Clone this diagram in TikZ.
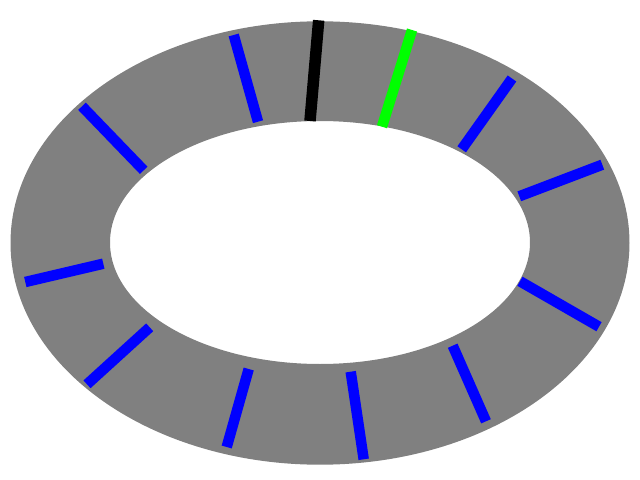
\documentclass[tikz,border=0pt]{standalone}
\usepackage{xcolor}
\usepackage{tikz}

\tikzset{spoke/.style={line width=10.5*0.025cm}}

\begin{document}
\begin{tikzpicture}[x=0.025cm,y=-0.025cm]
 \useasboundingbox (0,0) rectangle (640,480);
 % ring
 \fill[gray,even odd rule] (320,243) ellipse [x radius=309.5, y radius=221.7]
   (320,242.5) ellipse [x radius=210, y radius=121.5];
 % marks
 \draw[spoke,line width=11.5*0.025cm,black] (318.7,20.3) -- (310,121);
 \draw[spoke,green] (412,30) -- (382,126.7);
 \foreach \xa/\ya/\xb/\yb in {512/78.5/461.7/149.3, 602.3/164.7/519.3/196.3,
   599/326.7/520/281.3, 486/421.3/452.7/345.7, 363.7/459.3/350.7/371.7,
   226.7/447/248.7/369, 87/384.3/149.7/327.3, 25.3/282/103.3/263.7,
   82/106.3/143.7/170.3, 233.7/35/258/121.7}
   \draw[spoke,blue] (\xa,\ya) -- (\xb,\yb);
\end{tikzpicture}
\end{document}
